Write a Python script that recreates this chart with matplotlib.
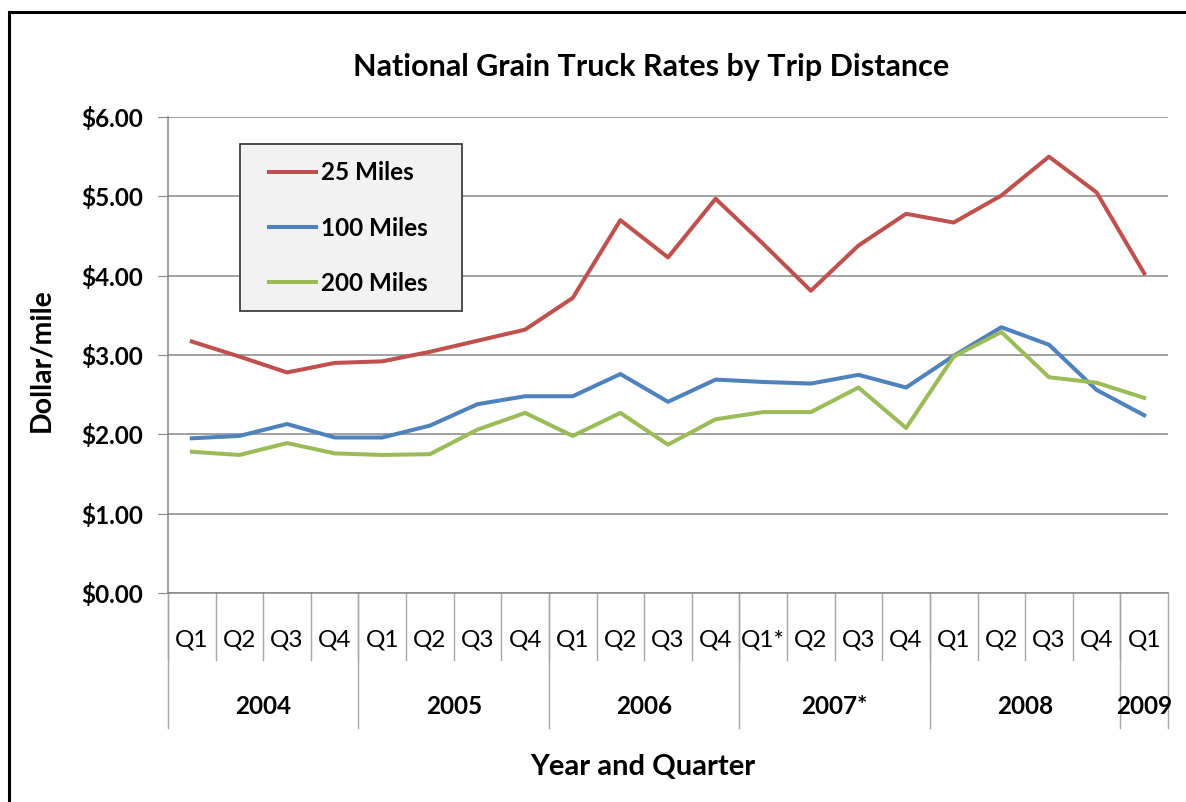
import matplotlib.pyplot as plt
from matplotlib.patches import Rectangle
from matplotlib.ticker import FuncFormatter

plt.rcParams['font.family'] = ['Lato', 'DejaVu Sans']

quarters = ['Q1', 'Q2', 'Q3', 'Q4', 'Q1', 'Q2', 'Q3', 'Q4', 'Q1', 'Q2', 'Q3', 'Q4',
            'Q1*', 'Q2', 'Q3', 'Q4', 'Q1', 'Q2', 'Q3', 'Q4', 'Q1']
years = ['2004', '2005', '2006', '2007*', '2008', '2009']
year_len = [4, 4, 4, 4, 4, 1]

miles25 = [3.17, 2.98, 2.78, 2.90, 2.92, 3.04, 3.18, 3.32, 3.72, 4.70, 4.23,
           4.97, 4.40, 3.81, 4.38, 4.78, 4.67, 5.01, 5.50, 5.05, 4.03]
miles100 = [1.95, 1.98, 2.13, 1.96, 1.96, 2.11, 2.38, 2.48, 2.48, 2.76, 2.41,
            2.69, 2.66, 2.64, 2.75, 2.59, 2.99, 3.35, 3.13, 2.56, 2.24]
miles200 = [1.78, 1.74, 1.89, 1.76, 1.74, 1.75, 2.06, 2.27, 1.98, 2.27, 1.87,
            2.19, 2.28, 2.28, 2.59, 2.08, 2.98, 3.29, 2.72, 2.65, 2.46]

W, H = 1186, 802
fig = plt.figure(figsize=(W / 100, H / 100), dpi=100)
ax = fig.add_axes([168 / W, (H - 593) / H, 1000 / W, 476 / H])

x = list(range(len(quarters)))
ax.plot(x, miles25, color='#c0504d', lw=2.9, label='25 Miles', solid_joinstyle='round')
ax.plot(x, miles100, color='#4f81bd', lw=2.9, label='100 Miles', solid_joinstyle='round')
ax.plot(x, miles200, color='#9bbb59', lw=2.9, label='200 Miles', solid_joinstyle='round')

ax.set_xlim(-0.5, len(quarters) - 0.5)
ax.set_ylim(0, 6)
ax.set_yticks(range(7))
ax.yaxis.set_major_formatter(FuncFormatter(lambda v, p: r'\$%.2f' % v))
ax.grid(axis='y', color='#868686', lw=1.1)
ax.set_axisbelow(True)
for s in ['top', 'right']:
    ax.spines[s].set_visible(False)
for s in ['left', 'bottom']:
    ax.spines[s].set_color('#868686')
    ax.spines[s].set_linewidth(1.1)
ax.tick_params(axis='y', length=7, color='#868686', pad=10.8, labelsize=17.5)
for t in ax.get_yticklabels():
    t.set_fontweight('bold')
ax.set_xticks([])

# two-level category axis
tr = ax.get_xaxis_transform()
sep_q = -67 / 476
sep_y = -135 / 476
for i, q in enumerate(quarters):
    ax.text(i, -47 / 476, q, transform=tr, ha='center', va='center', fontsize=17.5)
    ax.plot([i - 0.5, i - 0.5], [0, sep_q], transform=tr, color='#a6a6a6',
            lw=1, clip_on=False)
start = -0.5
for yr, n in zip(years, year_len):
    ax.text(start + n / 2, -113 / 476, yr, transform=tr, ha='center', va='center',
            fontsize=17.5, fontweight='bold')
    ax.plot([start, start], [0, sep_y], transform=tr, color='#a6a6a6', lw=1, clip_on=False)
    start += n
ax.plot([start, start], [0, sep_y], transform=tr, color='#a6a6a6', lw=1, clip_on=False)

# legend box (drawn separately so the padding matches)
ax.add_patch(Rectangle(((240 - 168) / 1000, (593 - 311) / 476), 222 / 1000, 167 / 476,
                       transform=ax.transAxes, facecolor='#f2f2f2', edgecolor='#404040',
                       lw=1.3, zorder=4))
leg = ax.legend(loc='center left', bbox_to_anchor=((269 - 168) / 1000, (593 - 228) / 476),
                fontsize=17.5, frameon=False, borderpad=0, labelspacing=1.33,
                handlelength=1.95, handletextpad=0.17, borderaxespad=0)
leg.set_zorder(5)
for t in leg.get_texts():
    t.set_fontweight('bold')

fig.text(651 / W, 1 - 67 / H, 'National Grain Truck Rates by Trip Distance',
         ha='center', va='center', fontsize=22, fontweight='bold')
fig.text(41 / W, 1 - 360 / H, 'Dollar/mile', rotation=90, ha='center', va='center',
         fontsize=20.5, fontweight='bold')
fig.text(643 / W, 1 - 767 / H, 'Year and Quarter', ha='center', va='center',
         fontsize=21, fontweight='bold')

# outer chart border
fig.patches.append(Rectangle((9 / W, -0.05), 1.2, 1.05 - 12 / H, transform=fig.transFigure,
                             fill=False, edgecolor='black', lw=2.2))

fig.savefig('out.png', dpi=100)
